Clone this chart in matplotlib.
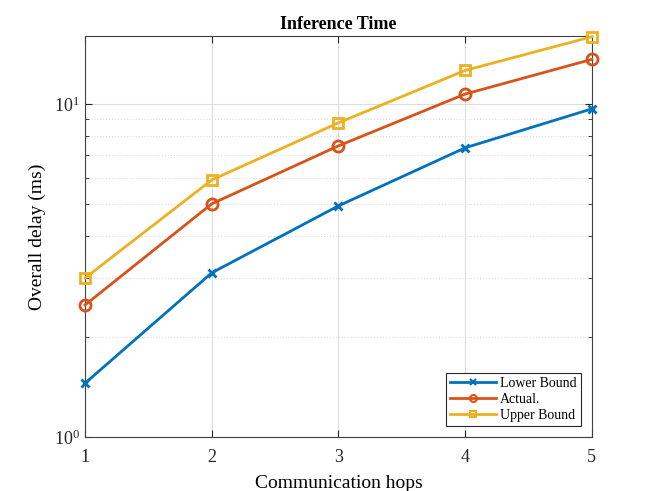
import numpy as np
import matplotlib.pyplot as plt
from matplotlib.ticker import LogLocator, NullFormatter

plt.rcParams['font.family'] = ['Liberation Serif', 'DejaVu Serif']
plt.rcParams['mathtext.fontset'] = 'custom'
plt.rcParams['mathtext.rm'] = 'Liberation Serif'
plt.rcParams['mathtext.it'] = 'Liberation Serif:italic'

hops = [1, 2, 3, 4, 5]
lower_bound = [1.45, 3.11, 4.94, 7.38, 9.66]
actual = [2.49, 5.01, 7.48, 10.7, 13.6]
upper_bound = [3.0, 5.91, 8.77, 12.6, 15.9]

fig = plt.figure(figsize=(6.54, 4.91), dpi=100)
ax = fig.add_axes([0.13, 0.11, 0.775, 0.817])

ax.plot(hops, lower_bound, color='#0072BD', lw=2, marker='x', ms=6, mew=2,
        label='Lower Bound', clip_on=False, zorder=3)
ax.plot(hops, actual, color='#D95319', lw=2, marker='o', ms=8, mew=2, mfc='none',
        label='Actual.', clip_on=False, zorder=3)
ax.plot(hops, upper_bound, color='#EDB120', lw=2, marker='s', ms=7, mew=2, mfc='none',
        label='Upper Bound', clip_on=False, zorder=3)

ax.set_yscale('log')
ax.set_xlim(1, 5)
ax.set_ylim(1, 16)
ax.set_xticks(hops)
ax.yaxis.set_major_locator(LogLocator(base=10, numticks=5))
ax.yaxis.set_minor_locator(LogLocator(base=10, subs=np.arange(2, 10), numticks=20))
ax.yaxis.set_minor_formatter(NullFormatter())

ax.grid(True, which='major', color='#dddddd', lw=0.8, ls='-')
ax.grid(True, which='minor', axis='y', color='#dddddd', lw=0.8, ls=':')
ax.set_axisbelow(True)

ax.tick_params(which='both', direction='in', top=True, right=True, labelsize=13, colors='#262626')
ax.tick_params(axis='x', which='major', pad=9)
ax.tick_params(which='major', length=5)
ax.tick_params(which='minor', length=3)
for s in ax.spines.values():
    s.set_color('#404040')
    s.set_linewidth(0.8)

ax.set_xlabel('Communication hops', fontsize=14, labelpad=6)
ax.set_ylabel('Overall delay (ms)', fontsize=14, labelpad=6)
ax.set_title('Inference Time', fontsize=13, fontweight='bold', pad=5)

leg = ax.legend(loc='lower right', fontsize=10, fancybox=False, edgecolor='#262626',
                framealpha=1, borderaxespad=0.8, handlelength=3.3, borderpad=0.3,
                labelspacing=0.2, handletextpad=0.3)
leg.get_frame().set_linewidth(0.8)
for h in leg.legend_handles:
    h.set_markersize(5)
    h.set_markeredgewidth(1.5)

fig.savefig('out.png', dpi=100)
